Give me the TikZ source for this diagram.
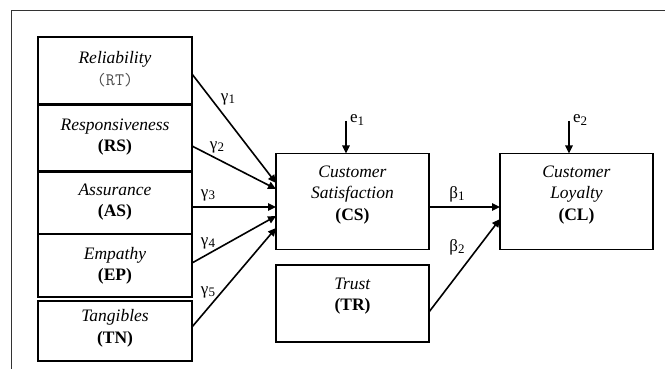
\documentclass[tikz,border=0pt]{standalone}
\usepackage{fontspec}
\setmainfont{Liberation Serif}
\usetikzlibrary{calc,arrows.meta}
\newcommand{\lowidx}[1]{\raisebox{-2.5pt}{\fontsize{13}{13}\selectfont #1}}
\begin{document}
\begin{tikzpicture}[x=1pt,y=-1pt,
  box/.style={draw=black,line width=1.2pt,inner sep=0pt,outer sep=0pt,minimum width=154pt},
  rbox/.style={draw=black,line width=1.2pt,inner sep=0pt,outer sep=0pt,minimum width=153pt},
  txt/.style={align=center,inner sep=0pt,font=\fontsize{17.5}{21.5}\selectfont},
  glbl/.style={inner sep=0pt,font=\fontsize{17}{17}\selectfont},
  arr/.style={line width=1.6pt,-{Triangle[length=8pt,width=7.5pt]}},
  frame/.style={draw=black!80,line width=1pt}]
\useasboundingbox (0,0) rectangle (665,369);
\draw[frame] (11,369) -- (11,11) -- (665,11);
% left boxes
\node[box,minimum height=67pt] (RT) at (115,70.5) {};
\node[box,minimum height=66pt] (RS) at (115,138) {};
\node[box,minimum height=62pt] (AS) at (115,203) {};
\node[box,minimum height=63pt] (EP) at (115,265.5) {};
\node[box,minimum height=60pt] (TN) at (115,331) {};
\node[txt] (RTt) at (115,69) {\textit{Reliability}\\{\color{black!70}\texttt{(RT)}}};
\node[txt] (RSt) at (115,137) {\textit{Responsiveness}\\\textbf{(RS)}};
\node[txt] (ASt) at (115,202) {\textit{Assurance}\\\textbf{(AS)}};
\node[txt] (EPt) at (115,266) {\textit{Empathy}\\\textbf{(EP)}};
\node[txt] (TNt) at (115,328.5) {\textit{Tangibles}\\\textbf{(TN)}};
% right boxes
\node[rbox,minimum height=96pt] (CS) at (352.5,201.5) {};
\node[rbox,minimum height=77pt] (TR) at (352.5,303.5) {};
\node[rbox,minimum height=96pt] (CL) at (576.5,201.5) {};
\node[txt] (CSt) at (352.5,195) {\textit{Customer}\\\textit{Satisfaction}\\\textbf{(CS)}};
\node[txt] (TRt) at (352.5,296) {\textit{Trust}\\\textbf{(TR)}};
\node[txt] (CLt) at (576.5,195) {\textit{Customer}\\\textit{Loyalty}\\\textbf{(CL)}};
% error terms
\coordinate (e1c) at (346,121);
\coordinate (e2c) at (569,121);
\draw[arr] (e1c) -- ($(CS.north)+(-6.5,0)$);
\draw[arr] (e2c) -- ($(CL.north)+(-7.5,0)$);
\node[glbl,anchor=west] (e1) at (350,120) {e\lowidx{1}};
\node[glbl,anchor=west] (e2) at (573,120) {e\lowidx{2}};
% paths
\draw[arr] ($(RT.east)+(0,3.5)$) -- ($(CS.west)+(0,-18.5)$);
\draw[arr] ($(RS.east)+(0,8)$) -- ($(CS.west)+(0,-12.5)$);
\draw[arr] ($(AS.east)+(0,4)$) -- ($(CS.west)+(0,5.5)$);
\draw[arr] ($(EP.east)+(0,-2.5)$) -- ($(CS.west)+(0,14.5)$);
\draw[arr] ($(TN.east)+(0,-4)$) -- ($(CS.west)+(0,26.5)$);
\draw[arr] ($(CS.east)+(0,5.5)$) -- ($(CL.west)+(0,5.5)$);
\draw[arr] ($(TR.east)+(0,8.5)$) -- ($(CL.west)+(0,17.5)$);
\node[glbl] (g1) at (228,99) {γ\lowidx{1}};
\node[glbl] (g2) at (217,147) {γ\lowidx{2}};
\node[glbl] (g3) at (208,195) {γ\lowidx{3}};
\node[glbl] (g4) at (208,243) {γ\lowidx{4}};
\node[glbl] (g5) at (208,292) {γ\lowidx{5}};
\node[glbl] (b1) at (457,194) {β\lowidx{1}};
\node[glbl] (b2) at (457,247) {β\lowidx{2}};
\end{tikzpicture}
\end{document}
